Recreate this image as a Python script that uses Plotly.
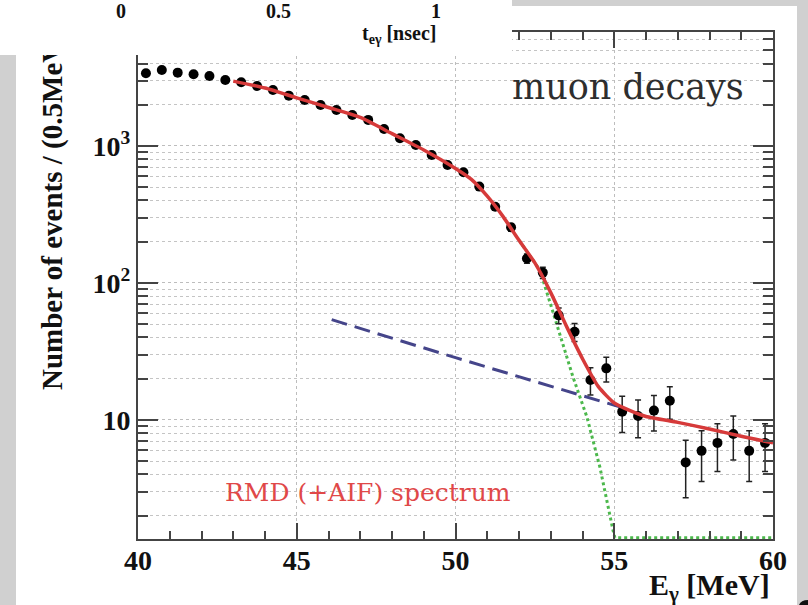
import plotly.graph_objects as go

# ---------------- data ----------------
e_centers = [40.25, 40.75, 41.25, 41.75, 42.25, 42.75, 43.25, 43.75, 44.25, 44.75,
             45.25, 45.75, 46.25, 46.75, 47.25, 47.75, 48.25, 48.75, 49.25, 49.75,
             50.25, 50.75, 51.25, 51.75, 52.25, 52.75, 53.25, 53.75, 54.25, 54.75,
             55.25, 55.75, 56.25, 56.75, 57.25, 57.75, 58.25, 58.75, 59.25, 59.75]
counts = [3400, 3590, 3430, 3335, 3245, 3035, 2920, 2740, 2565, 2330,
          2166, 1992, 1833, 1683, 1550, 1331, 1138, 1017, 859, 726,
          643, 505, 360, 255, 151, 119, 58, 44, 19.6, 23.8,
          11.5, 10.7, 11.7, 13.8, 4.9, 5.95, 6.8, 7.9, 5.95, 6.8]
count_err = [58, 60, 59, 58, 57, 55, 54, 52, 51, 48,
             47, 45, 43, 41, 39, 36, 34, 32, 29, 27,
             25, 22, 19, 16, 12, 11, 7.6, 6.6, 4.4, 4.9,
             3.4, 3.3, 3.4, 3.7, 2.2, 2.4, 2.6, 2.8, 2.4, 2.6]

fit_x = [43, 44, 45, 46, 47, 48, 49, 50, 50.5, 51, 51.5, 52, 52.5, 53, 53.5,
         54, 54.5, 55, 55.5, 56, 57, 58, 59, 60]
fit_y = [2975, 2650, 2245, 1910, 1615, 1230, 935, 685, 570, 430, 305, 205, 140, 85, 48,
         28, 17.5, 13.3, 11.7, 10.6, 9.6, 8.6, 7.6, 6.8]

bkg_x = [46.1, 50.0, 55.2]
bkg_y = [54, 28.5, 12.4]

rmd_x = [52.0, 52.66, 53.2, 53.7, 54.14, 54.55, 54.96, 55.02, 60.0]
rmd_y = [205, 124, 49, 20.6, 10.5, 4.5, 1.57, 1.38, 1.38]

x_ticks = [40, 45, 50, 55, 60]
y_ticks = [10, 100, 1000]
y_ticktext = ["10", "10<sup>2</sup>", "10<sup>3</sup>"]
y_minor = [m * 10 ** k for k in range(0, 4) for m in range(2, 10)]
inset_ticks = ["0", "0.5", "1"]

# ---------------- layout helpers ----------------
L, R, T, B = 138, 773, 32, 539
W, H = 808, 605


def px(x):
    return (x - L) / (R - L)


def py(y):
    return (B - y) / (B - T)


serif = "Liberation Serif"

fig = go.Figure()

fig.add_trace(go.Scatter(x=rmd_x, y=rmd_y, mode="lines",
                         line=dict(color="#4cb84c", width=3, dash="3px,3px"),
                         hoverinfo="skip", showlegend=False))
fig.add_trace(go.Scatter(x=bkg_x, y=bkg_y, mode="lines",
                         line=dict(color="#45458a", width=3, dash="16px,8px"),
                         hoverinfo="skip", showlegend=False))
fig.add_trace(go.Scatter(x=e_centers, y=counts, mode="markers",
                         marker=dict(color="black", size=10),
                         error_y=dict(type="data", array=count_err, color="#222",
                                      thickness=1.5, width=3),
                         showlegend=False))
fig.add_trace(go.Scatter(x=fit_x, y=fit_y, mode="lines", line_shape="spline",
                         line=dict(color="#d63a3a", width=3.5, smoothing=0.6),
                         hoverinfo="skip", showlegend=False))

tickfont = dict(family=serif, size=28, color="#111", weight="bold")

fig.update_xaxes(range=[40, 60], tickvals=x_ticks, ticks="inside", ticklen=16,
                 tickwidth=1.5, tickcolor="#444", showline=True, linecolor="#444",
                 linewidth=2, mirror="ticks", showgrid=True, gridcolor="#bdbdbd",
                 griddash="dot", gridwidth=1, zeroline=False, tickfont=tickfont,
                 ticklabelstandoff=-5,
                 minor=dict(dtick=1, ticks="inside", ticklen=8, tickcolor="#444",
                            showgrid=False))
fig.update_yaxes(type="log", range=[0.131, 3.832], tickvals=y_ticks, ticktext=y_ticktext,
                 ticks="inside", ticklen=20, tickwidth=1.5, tickcolor="#444",
                 showline=True, linecolor="#444", linewidth=2, mirror="ticks",
                 showgrid=True, gridcolor="#bdbdbd", griddash="dot", gridwidth=1,
                 zeroline=False, tickfont=tickfont, ticklabelstandoff=0,
                 minor=dict(tickvals=y_minor, ticks="inside", ticklen=10, tickcolor="#444",
                            showgrid=True, gridcolor="#c4c4c4", griddash="dot", gridwidth=1))

shapes = [
    dict(type="rect", xref="paper", yref="paper", layer="below",
         x0=px(16), x1=px(797), y0=py(605), y1=py(6),
         fillcolor="white", line=dict(width=0)),
    dict(type="path", xref="paper", yref="paper",
         path=f"M {px(799)},{py(605)} Q {px(801)},{py(600)} {px(808)},{py(600)} L {px(808)},{py(605)} Z",
         fillcolor="#111", line=dict(width=0)),
]

annotations = [
    dict(text="Number of events / (0.5MeV)", textangle=-90, xref="paper", yref="paper",
         x=px(52), y=py(211), xanchor="center", yanchor="middle", showarrow=False,
         font=dict(family=serif, size=29, color="#111", weight="bold")),
    dict(text="E<sub>γ</sub> [MeV]", xref="paper", yref="paper",
         x=px(772), y=py(587), xanchor="right", yanchor="middle", showarrow=False,
         font=dict(family=serif, size=30, color="#111", weight="bold")),
    dict(text="muon decays", xref="paper", yref="paper",
         x=px(628), y=py(87), xanchor="center", yanchor="middle", showarrow=False,
         font=dict(family="DejaVu Serif", size=35, color="#2e2e2e")),
    dict(text="RMD (+AIF) spectrum", xref="paper", yref="paper",
         x=px(368), y=py(492), xanchor="center", yanchor="middle", showarrow=False,
         font=dict(family="DejaVu Serif", size=25, color="#e04848")),
    # white strip of the inset picture that covers the top-left corner
    dict(text=" ", xref="paper", yref="paper", x=px(0), y=py(0),
         xanchor="left", yanchor="top", width=512, height=55, bgcolor="white",
         borderpad=0, borderwidth=0, showarrow=False),
]
for lbl, xc in zip(inset_ticks, [121, 278, 436]):
    annotations.append(dict(text=lbl, xref="paper", yref="paper", x=px(xc), y=py(11),
                            xanchor="center", yanchor="middle", showarrow=False,
                            font=dict(family=serif, size=20, color="#111", weight="bold")))
annotations.append(dict(text="t<sub>eγ</sub> [nsec]", xref="paper", yref="paper",
                        x=px(438), y=py(34), xanchor="right", yanchor="middle",
                        showarrow=False,
                        font=dict(family=serif, size=20, color="#111", weight="bold")))

fig.update_layout(width=W, height=H, autosize=False,
                  margin=dict(l=L, r=W - R, t=T, b=H - B, pad=0),
                  paper_bgcolor="#d0d0d0", plot_bgcolor="white",
                  shapes=shapes, annotations=annotations, showlegend=False)

fig.write_html("out.html")
